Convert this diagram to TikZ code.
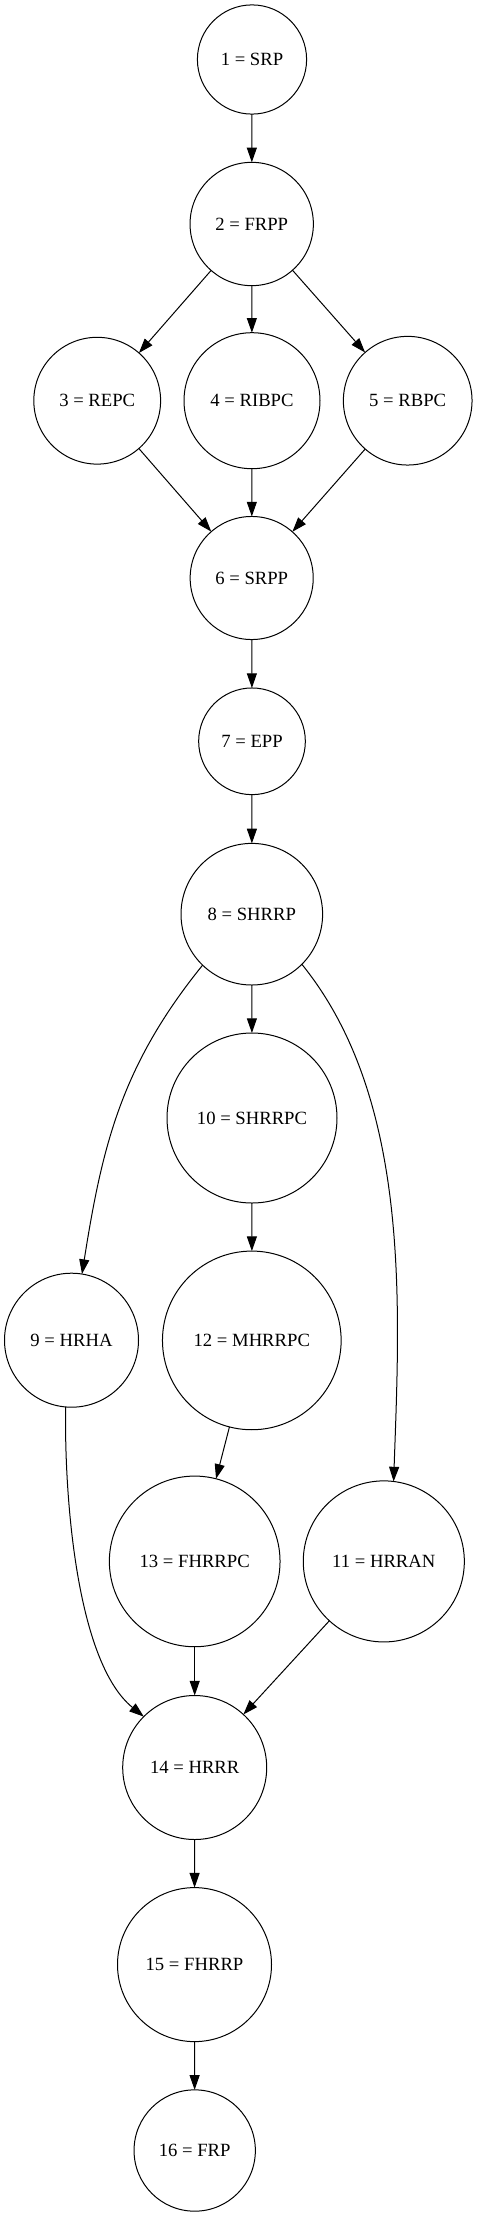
\documentclass[tikz,border=0pt]{standalone}
\usepackage{fontspec}
\setmainfont{Liberation Serif}
\usetikzlibrary{arrows.meta}

\begin{document}
\begin{tikzpicture}[x=0.75pt,y=-0.75pt,
 state/.style={draw,circle,inner sep=0pt,outer sep=0pt,line width=0.75pt,minimum size=#1,font=\fontsize{14}{17}\selectfont},
 edge/.style={line width=0.75pt,-{Triangle[length=11pt,width=7.5pt]}}]

\useasboundingbox (0,0) rectangle (478,2216);

\node[state=81.9pt]  (n1)  at (252,59.5)    {1 = SRP};
\node[state=92.5pt]  (n2)  at (251.7,224)   {2 = FRPP};
\node[state=95.1pt]  (n3)  at (97.2,400.7)  {3 = REPC};
\node[state=102pt]   (n4)  at (252,400.7)   {4 = RIBPC};
\node[state=96.5pt]  (n5)  at (407.7,400.7) {5 = RBPC};
\node[state=92.3pt]  (n6)  at (251.7,578)   {6 = SRPP};
\node[state=80pt]    (n7)  at (252,741.3)   {7 = EPP};
\node[state=106.2pt] (n8)  at (251.8,914.2) {8 = SHRRP};

\node[state=127.5pt] (n10) at (252,1118)    {10 = SHRRPC};
\node[state=100.5pt] (n9)  at (71.5,1340.2) {9 = HRHA};
\node[state=134pt]   (n12) at (251.8,1340.4) {12 = MHRRPC};
\node[state=128pt]   (n13) at (194.7,1561.4) {13 = FHRRPC};
\node[state=120.8pt] (n11) at (383.8,1561.4) {11 = HRRAN};
\node[state=108pt]   (n14) at (194.7,1767.5) {14 = HRRR};
\node[state=115.5pt] (n15) at (194.5,1964.6) {15 = FHRRP};
\node[state=91pt]    (n16) at (194.7,2150.5) {16 = FRP};

% straight edges
\draw [edge] (n1) -- (n2);
\draw [edge] (n2) -- (n3);
\draw [edge] (n2) -- (n4);
\draw [edge] (n2) -- (n5);
\draw [edge] (n3) -- (n6);
\draw [edge] (n4) -- (n6);
\draw [edge] (n5) -- (n6);
\draw [edge] (n6) -- (n7);
\draw [edge] (n7) -- (n8);
\draw [edge] (n8) -- (n10);
\draw [edge] (n10) -- (n12);
\draw [edge] (n12) -- (n13);
\draw [edge] (n13) -- (n14);
\draw [edge] (n11) -- (n14);
\draw [edge] (n14) -- (n15);
\draw [edge] (n15) -- (n16);

% curved edges
\draw [edge] (n8.-134) to[out=-129,in=81] (n9.81);
\draw [edge] (n8.-45) to[out=-51,in=88,looseness=0.85] (n11.83);
\draw [edge] (n9.-95) to[out=-91,in=141,looseness=0.7] (n14.135);
\end{tikzpicture}
\end{document}
